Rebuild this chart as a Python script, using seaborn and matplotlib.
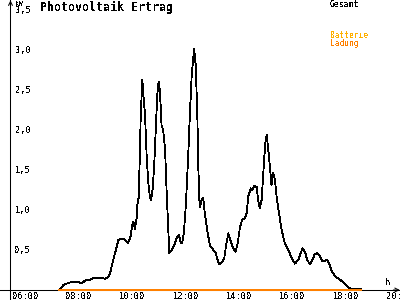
import matplotlib
matplotlib.use("Agg")
import matplotlib.pyplot as plt
import seaborn as sns
import pandas as pd
from matplotlib.transforms import offset_copy

# ---- data ----
hours = [7.64, 7.70, 7.80, 7.93, 8.11, 8.24, 8.36, 8.45, 8.55, 8.67,
         8.80, 8.92, 9.05, 9.24, 9.36, 9.48, 9.55, 9.67, 9.80, 9.86,
         9.99, 10.11, 10.23, 10.32, 10.40, 10.45, 10.48, 10.55, 10.57, 10.62,
         10.66, 10.70, 10.76, 10.79, 10.86, 10.92, 10.98, 11.04, 11.09, 11.15,
         11.21, 11.27, 11.32, 11.37, 11.42, 11.48, 11.54, 11.61, 11.67, 11.73,
         11.77, 11.86, 11.96, 12.04, 12.13, 12.19, 12.25, 12.32, 12.39, 12.48,
         12.54, 12.61, 12.67, 12.70, 12.76, 12.82, 12.86, 12.90, 12.92, 12.98,
         13.04, 13.10, 13.21, 13.29, 13.42, 13.51, 13.58, 13.64, 13.73, 13.83,
         13.89, 13.98, 14.08, 14.16, 14.25, 14.33, 14.42, 14.50, 14.60, 14.67,
         14.73, 14.82, 14.88, 14.95, 15.04, 15.10, 15.16, 15.23, 15.29, 15.33,
         15.38, 15.42, 15.48, 15.54, 15.60, 15.66, 15.73, 15.79, 15.88, 15.98,
         16.10, 16.22, 16.35, 16.48, 16.60, 16.69, 16.76, 16.85, 16.94, 17.04,
         17.14, 17.22, 17.31, 17.41, 17.51, 17.60, 17.69, 17.76, 17.85, 17.97,
         18.16, 18.31, 18.43, 18.54, 18.60, 18.97]
gesamt = [0.00, 0.02, 0.06, 0.08, 0.10, 0.10, 0.10, 0.08, 0.10, 0.13,
          0.125, 0.15, 0.15, 0.15, 0.14, 0.16, 0.21, 0.375, 0.54, 0.625,
          0.64, 0.63, 0.59, 0.67, 0.85, 0.83, 0.76, 0.90, 1.06, 1.15,
          1.60, 2.19, 2.625, 2.48, 2.19, 1.69, 1.35, 1.17, 1.125, 1.27,
          1.60, 2.06, 2.44, 2.60, 2.48, 2.06, 2.00, 1.77, 1.23, 0.77,
          0.46, 0.50, 0.56, 0.65, 0.69, 0.60, 0.58, 0.73, 1.06, 1.69,
          2.19, 2.69, 2.90, 3.02, 2.81, 2.19, 1.50, 1.10, 1.04, 1.125,
          1.15, 0.96, 0.71, 0.56, 0.50, 0.46, 0.375, 0.325, 0.34, 0.40,
          0.54, 0.71, 0.60, 0.52, 0.48, 0.58, 0.79, 0.875, 0.90, 0.96,
          1.17, 1.27, 1.25, 1.30, 1.29, 1.125, 1.02, 1.125, 1.46, 1.67,
          1.875, 1.94, 1.75, 1.54, 1.31, 1.46, 1.375, 1.17, 0.96, 0.75,
          0.58, 0.51, 0.40, 0.33, 0.375, 0.46, 0.52, 0.48, 0.375, 0.32,
          0.38, 0.45, 0.46, 0.425, 0.36, 0.36, 0.38, 0.33, 0.24, 0.175,
          0.13, 0.09, 0.05, 0.02, 0.01, 0.01]
ladung = [0.0] * len(hours)

x_ticks = [6, 8, 10, 12, 14, 16, 18, 20]
x_labels = ["06:00", "08:00", "10:00", "12:00", "14:00", "16:00", "18:00", "20:00"]
y_ticks = [0.5, 1.0, 1.5, 2.0, 2.5, 3.0, 3.5]
y_labels = ["0,5", "1,0", "1,5", "2,0", "2,5", "3,0", "3,5"]

title = "Photovoltaik Ertrag"
legend_items = ["Gesamt", "Batterie", "Ladung"]
legend_colors = ["black", "#FFB000", "#FF8000"]

# ---- style ----
sns.set_style("white")
plt.rcParams["font.family"] = ["DejaVu Sans Mono", "DejaVu Sans"]
plt.rcParams["text.antialiased"] = False

fig = plt.figure(figsize=(4, 3), dpi=100)
ax = fig.add_axes([0, 0, 1, 1])
ax.set_facecolor("white")

df_g = pd.DataFrame({"h": hours, "kW": gesamt})
df_l = pd.DataFrame({"h": hours, "kW": ladung})
sns.lineplot(data=df_g, x="h", y="kW", ax=ax, color="black", lw=0.6,
             antialiased=False, estimator=None, sort=False)
sns.lineplot(data=df_l, x="h", y="kW", ax=ax, color="#FF8000", lw=1.3,
             antialiased=False, estimator=None, sort=False)

x0, x1 = 5.4268, 20.4138
y0, y1 = -0.125, 3.625
ax.set_xlim(x0, x1)
ax.set_ylim(y0, y1)
axis_x = 5.82
ax.set_xlabel("")
ax.set_ylabel("")

for s in ["top", "right"]:
    ax.spines[s].set_visible(False)
ax.spines["left"].set_position(("data", axis_x))
ax.spines["bottom"].set_position(("data", 0))
for s in ["left", "bottom"]:
    ax.spines[s].set_color("black")
    ax.spines[s].set_linewidth(0.75)
    ax.spines[s].set_zorder(1)

ax.set_xticks(x_ticks)
ax.set_yticks(y_ticks)
ax.tick_params(axis="x", direction="out", length=7.5, width=0.75, color="black",
               labelbottom=False)
ax.tick_params(axis="y", direction="inout", length=3.4, width=0.75, color="black",
               labelleft=False)

# arrow heads
ax.annotate("", xy=(axis_x, y1 - 0.005), xytext=(axis_x, y1 - 0.08),
            arrowprops=dict(arrowstyle="->", lw=0.75, color="black",
                            shrinkA=0, shrinkB=0, mutation_scale=7))
ax.annotate("", xy=(x1 - 0.005, 0), xytext=(x1 - 0.25, 0),
            arrowprops=dict(arrowstyle="->", lw=0.75, color="black",
                            shrinkA=0, shrinkB=0, mutation_scale=7))

# tick labels
xt = offset_copy(ax.transData, fig=fig, x=-3, y=-9.3, units="dots")
for t, lab in zip(x_ticks, x_labels):
    ax.text(t, 0, lab, transform=xt, ha="left", va="baseline", fontsize=6.2,
            color="black", clip_on=False)
yt = offset_copy(ax.transData, fig=fig, x=4.5, y=-3.0, units="dots")
for v, lab in zip(y_ticks, y_labels):
    ax.text(axis_x, v, lab, transform=yt, ha="left", va="baseline", fontsize=6.2,
            color="black")

# other texts (pixel positions)
def ftext(px, py, s, **kw):
    fig.text(px / 400, 1 - py / 300, s, va="baseline", ha="left", **kw)

ftext(15, 6.3, "kW", fontsize=4.7, color="black")
ftext(40, 11.3, title, fontsize=8.4, fontweight="bold", color="black")
ftext(330, 7.3, legend_items[0], fontsize=5.9, color=legend_colors[0])
ftext(330, 38.3, legend_items[1], fontsize=5.7, color=legend_colors[1])
ftext(330, 45.8, legend_items[2], fontsize=5.7, color=legend_colors[2])
ftext(385, 285.3, "h", fontsize=6.2, color="black")

fig.savefig("out.png", dpi=100, facecolor="white")
